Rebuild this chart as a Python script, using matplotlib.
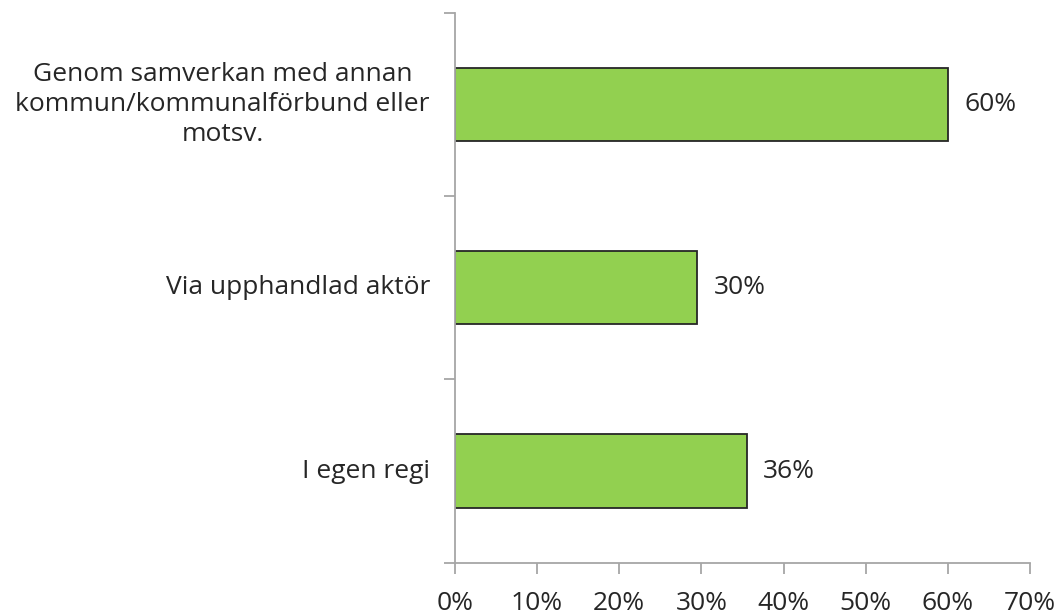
import matplotlib.pyplot as plt
from matplotlib.ticker import FuncFormatter

categories = ['Genom samverkan med annan\nkommun/kommunalförbund eller\nmotsv.',
              'Via upphandlad aktör',
              'I egen regi']
values = [60.0, 29.5, 35.5]
labels = ['60%', '30%', '36%']
xticks = [0, 10, 20, 30, 40, 50, 60, 70]

plt.rcParams['font.family'] = ['Open Sans', 'DejaVu Sans']

fig = plt.figure(figsize=(10.58, 6.14), dpi=100)
ax = fig.add_axes([0.430, 0.0835, 0.5435, 0.8955])

pos = list(range(len(categories)))
ax.barh(pos, values, height=0.4, color='#92D050', edgecolor='#262626', linewidth=1.3)

for p, v, lab in zip(pos, values, labels):
    ax.annotate(lab, (v, p), xytext=(12, 0), textcoords='offset points',
                va='center', ha='left', fontsize=19, color='#262626')

# category labels drawn as text so that multi-line labels stay centred
for p, cat in zip(pos, categories):
    ax.annotate(cat, (0, p), xytext=(-18, 0), textcoords='offset points',
                va='center', ha='right', multialignment='center',
                fontsize=19, color='#262626', linespacing=1.28)

ax.set_xlim(0, 70)
ax.set_ylim(2.5, -0.5)
ax.set_xticks(xticks)
ax.xaxis.set_major_formatter(FuncFormatter(lambda x, _: f'{x:.0f}%'))
ax.set_yticks([-0.5, 0.5, 1.5, 2.5])
ax.set_yticklabels([])

for s in ['top', 'right']:
    ax.spines[s].set_visible(False)
for s in ['left', 'bottom']:
    ax.spines[s].set_color('#A6A6A6')
    ax.spines[s].set_linewidth(1.3)

ax.tick_params(axis='x', length=8, width=1.3, color='#A6A6A6',
               labelsize=19, labelcolor='#262626', pad=12)
ax.tick_params(axis='y', length=8, width=1.3, color='#A6A6A6')

fig.savefig('out.png', dpi=100)
